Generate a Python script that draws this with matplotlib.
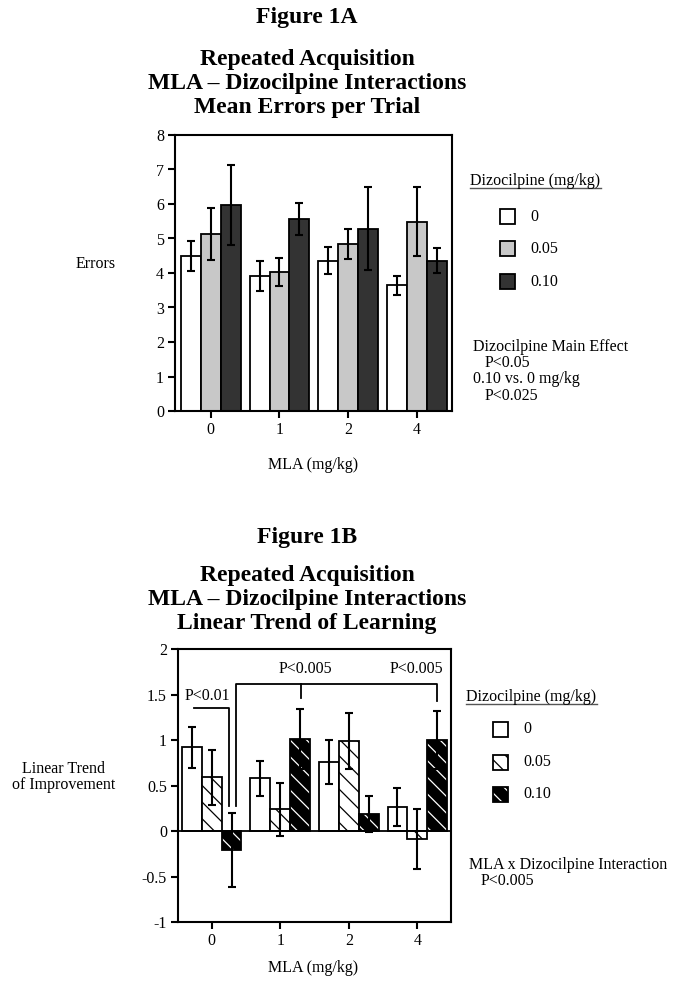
import numpy as np
import matplotlib
matplotlib.use('Agg')
import matplotlib.pyplot as plt
from matplotlib.patches import Rectangle
from matplotlib.lines import Line2D

plt.rcParams['font.family'] = ['Liberation Serif', 'DejaVu Serif']
plt.rcParams['hatch.linewidth'] = 0.9

# data
mla_doses = ['0', '1', '2', '4']
dizo_doses = ['0', '0.05', '0.10']

errors_mean_0 = [4.49, 3.92, 4.36, 3.64]
errors_mean_005 = [5.12, 4.03, 4.84, 5.48]
errors_mean_010 = [5.96, 5.57, 5.28, 4.36]
errors_sem_0 = [0.43, 0.44, 0.39, 0.28]
errors_sem_005 = [0.75, 0.41, 0.44, 1.00]
errors_sem_010 = [1.16, 0.47, 1.20, 0.37]

trend_mean_0 = [0.92, 0.58, 0.76, 0.26]
trend_mean_005 = [0.59, 0.24, 0.99, -0.09]
trend_mean_010 = [-0.21, 1.01, 0.19, 1.00]
trend_sem_0 = [0.225, 0.19, 0.24, 0.21]
trend_sem_005 = [0.30, 0.29, 0.31, 0.33]
trend_sem_010 = [0.41, 0.33, 0.20, 0.315]

W, H = 679, 988
fig = plt.figure(figsize=(W / 100, H / 100), dpi=100)


def px(x, y):
    return x / W, 1 - y / H


def ftext(x, y, s, **kw):
    kw.setdefault('fontsize', 11.5)
    kw.setdefault('va', 'center')
    fig.text(*px(x, y), s, **kw)


def style_axes(ax):
    for sp in ax.spines.values():
        sp.set_linewidth(1.5)
    ax.tick_params(direction='out', length=5, width=1.5, labelsize=11.5, pad=3)


def draw_bars(ax, means, sems, styles, width=0.29):
    x = np.arange(len(mla_doses))
    offs = [-width, 0, width]
    for i in range(3):
        fc, hatch, hc = styles[i]
        if hatch:
            ax.bar(x + offs[i], means[i], width, color=fc, edgecolor=hc, hatch=hatch,
                   linewidth=0, zorder=2)
            ax.bar(x + offs[i], means[i], width, facecolor='none', edgecolor='black',
                   linewidth=1.3, zorder=3)
        else:
            ax.bar(x + offs[i], means[i], width, color=fc, edgecolor='black',
                   linewidth=1.3, zorder=2)
        ax.errorbar(x + offs[i], means[i], yerr=sems[i], fmt='none', ecolor='black',
                    elinewidth=1.5, capsize=3, capthick=1.5, zorder=4)
    ax.set_xticks(x)
    ax.set_xticklabels(mla_doses)


def legend(x0, y_title, ys, labels, styles, label_x):
    ftext(x0, y_title, 'Dizocilpine (mg/kg)')
    fig.add_artist(Line2D([x0 / W, (x0 + 131) / W], [1 - (y_title + 7) / H] * 2,
                          color='#555555', lw=1.0))
    for (fc, hatch, hc), y, lab in zip(styles, ys, labels):
        xs, ys_ = px(label_x - 30, y + 7.5)
        if hatch:
            fig.add_artist(Rectangle((xs, ys_), 15 / W, 15 / H, facecolor=fc, edgecolor=hc,
                                     hatch=hatch, linewidth=0, transform=fig.transFigure))
        fig.add_artist(Rectangle((xs, ys_), 15 / W, 15 / H,
                                 facecolor='none' if hatch else fc, edgecolor='black',
                                 linewidth=1.3, transform=fig.transFigure))
        ftext(label_x, y, lab)


# ---------- Figure 1A ----------
ftext(307, 18, 'Figure 1A', ha='center', fontsize=17, fontweight='bold')
ftext(307, 59, 'Repeated Acquisition', ha='center', fontsize=17, fontweight='bold')
ftext(307, 83, 'MLA \u2013 Dizocilpine Interactions', ha='center', fontsize=17, fontweight='bold')
ftext(307, 107, 'Mean Errors per Trial', ha='center', fontsize=17, fontweight='bold')

styles_a = [('white', None, None), ('#c8c8c8', None, None), ('#333333', None, None)]
axA = fig.add_axes([175 / W, 1 - 411 / H, 277 / W, 276 / H])
draw_bars(axA, [errors_mean_0, errors_mean_005, errors_mean_010],
          [errors_sem_0, errors_sem_005, errors_sem_010], styles_a)
axA.set_ylim(0, 8)
axA.set_yticks(range(0, 9))
axA.set_xlim(-0.52, 3.51)
style_axes(axA)

ftext(96, 264, 'Errors', ha='center')
ftext(313, 465, 'MLA (mg/kg)', ha='center')
legend(470, 181, [217, 249, 282], dizo_doses, styles_a, 530)
ftext(473, 347, 'Dizocilpine Main Effect')
ftext(485, 363, 'P<0.05')
ftext(473, 379, '0.10 vs. 0 mg/kg')
ftext(485, 396, 'P<0.025')

# ---------- Figure 1B ----------
ftext(307, 537, 'Figure 1B', ha='center', fontsize=17, fontweight='bold')
ftext(307, 576, 'Repeated Acquisition', ha='center', fontsize=17, fontweight='bold')
ftext(307, 600, 'MLA \u2013 Dizocilpine Interactions', ha='center', fontsize=17, fontweight='bold')
ftext(307, 624, 'Linear Trend of Learning', ha='center', fontsize=17, fontweight='bold')

styles_b = [('white', None, None), ('white', '\\\\', 'black'), ('black', '\\\\', 'white')]
axB = fig.add_axes([178 / W, 1 - 922 / H, 273 / W, 273 / H])
draw_bars(axB, [trend_mean_0, trend_mean_005, trend_mean_010],
          [trend_sem_0, trend_sem_005, trend_sem_010], styles_b)
axB.axhline(0, color='black', lw=1.3, zorder=3)
axB.set_ylim(-1, 2)
axB.set_yticks([-1, -0.5, 0, 0.5, 1, 1.5, 2])
axB.set_yticklabels(['-1', '-0.5', '0', '0.5', '1', '1.5', '2'])
axB.set_xlim(-0.49, 3.49)
style_axes(axB)

# significance brackets
axB.plot([-0.26, 0.26, 0.26], [1.35, 1.35, 0.27], color='black', lw=1.3)
axB.plot([0.35, 0.35, 3.29, 3.29], [0.27, 1.61, 1.61, 1.43], color='black', lw=1.3)
axB.plot([1.31, 1.31], [1.61, 1.46], color='black', lw=1.3)
axB.text(-0.06, 1.48, 'P<0.01', ha='center', va='center', fontsize=11.5)
axB.text(1.37, 1.78, 'P<0.005', ha='center', va='center', fontsize=11.5)
axB.text(2.98, 1.78, 'P<0.005', ha='center', va='center', fontsize=11.5)

ftext(64, 777, 'Linear Trend\nof Improvement', ha='center', linespacing=1.05)
ftext(313, 968, 'MLA (mg/kg)', ha='center')
legend(466, 697, [729, 762, 794], dizo_doses, styles_b, 523)
ftext(469, 865, 'MLA x Dizocilpine Interaction')
ftext(481, 881, 'P<0.005')

fig.savefig('out.png', dpi=100)
